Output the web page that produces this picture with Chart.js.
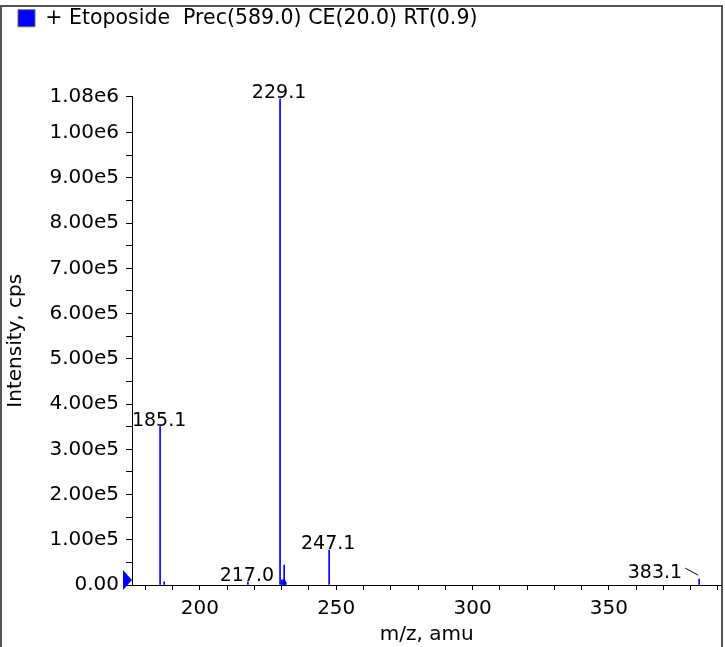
<!DOCTYPE html>
<html>
<head>
<meta charset="utf-8">
<script src="https://cdn.jsdelivr.net/npm/chart.js@4"></script>
<style>
html,body{margin:0;padding:0;background:#fff;}
</style>
</head>
<body>
<canvas id="chart1" width="725" height="647"></canvas>
<script>
// ---------- data ----------
const legendText = "+ Etoposide  Prec(589.0) CE(20.0) RT(0.9)";

// peak positions (m/z) and heights (cps)
const peakMz        = [185.4, 186.9, 217.6, 229.4, 230.0, 230.3, 230.6, 230.9, 231.2, 231.5, 247.4, 383.1];
const peakIntensity = [350000, 7000, 7000, 1075000, 11000, 11000, 11000, 44000, 10000, 6000, 77000, 13000];

// annotated peaks
const labelText      = ["185.1", "217.0", "229.1", "247.1", "383.1"];
const labelMz        = [185.4, 217.6, 229.4, 247.4, 383.1];
const labelIntensity = [350000, 7000, 1075000, 77000, 13000];

// threshold marker on the y axis
const markerIntensity = [11000];

const xTicks = [180,190,200,210,220,230,240,250,260,270,280,290,300,310,320,330,340,350,360,370,380,390];
const xLabelTicks = [200,250,300,350];
const yTicks = [0,50000,100000,150000,200000,250000,300000,350000,400000,450000,500000,
                550000,600000,650000,700000,750000,800000,850000,900000,950000,1000000,1080000];
const yLabelTicks = [0,100000,200000,300000,400000,500000,600000,700000,800000,900000,1000000,1080000];

const FONT = "DejaVu Sans";

function fmtY(v){
    if(v === 0) return "0.00";
    return v.toExponential(2).replace("e+","e");
}

// ---------- plugins ----------
const frame = {
    id: "frame",
    beforeDraw(chart){
        const ctx = chart.ctx;
        ctx.save();
        ctx.fillStyle = "#fff";
        ctx.fillRect(0,0,chart.width,chart.height);
        ctx.strokeStyle = "#555";
        ctx.lineWidth = 2;
        ctx.strokeRect(1,6,721,700);
        ctx.restore();
    }
};

const legendSpace = {
    id: "legendSpace",
    beforeInit(chart){
        const fit = chart.legend.fit;
        chart.legend.fit = function(){
            fit.bind(chart.legend)();
            this.height += 58;
        };
    }
};

// blue arrow on the y axis (threshold)
const marker = {
    id: "marker",
    afterDatasetsDraw(chart){
        const {ctx, scales:{x, y}} = chart;
        ctx.save();
        ctx.fillStyle = "#0000ff";
        markerIntensity.forEach(v => {
            const py = y.getPixelForValue(v);
            const px = x.left;
            ctx.beginPath();
            ctx.moveTo(px, py);
            ctx.lineTo(px - 9, py - 10);
            ctx.lineTo(px - 9, py + 10);
            ctx.closePath();
            ctx.fill();
        });
        ctx.restore();
    }
};

const peakLabels = {
    id: "peakLabels",
    afterDatasetsDraw(chart){
        const {ctx, scales:{x, y}} = chart;
        ctx.save();
        ctx.font = "19px '" + FONT + "'";
        ctx.fillStyle = "#000";
        ctx.strokeStyle = "#000";
        ctx.lineWidth = 1;
        labelText.forEach((t,i) => {
            const px = x.getPixelForValue(labelMz[i]);
            const py = y.getPixelForValue(labelIntensity[i]);
            if(px > x.right - 60){
                // too close to the edge, put it on the left with a leader line
                ctx.textAlign = "right";
                ctx.fillText(t, px - 17, py - 6);
                ctx.beginPath();
                ctx.moveTo(px - 14, py - 11);
                ctx.lineTo(px - 1, py - 4);
                ctx.stroke();
            } else {
                ctx.textAlign = "center";
                ctx.fillText(t, px - 1, py - 6);
            }
        });
        ctx.restore();
    }
};

// ---------- chart ----------
const chart1 = new Chart(document.getElementById("chart1"), {
    type: "bar",
    data: {
        datasets: [{
            label: legendText,
            data: peakMz.map((m,i) => ({x: m, y: peakIntensity[i]})),
            backgroundColor: "#0000ff",
            borderWidth: 0,
            barThickness: 1
        }]
    },
    options: {
        animation: false,
        responsive: false,
        events: [],
        layout: { padding: {left: 10, right: 3, top: 0, bottom: 0} },
        plugins: {
            tooltip: {enabled: false},
            legend: {
                position: "top",
                align: "start",
                labels: {
                    boxWidth: 17,
                    boxHeight: 17,
                    padding: 8,
                    color: "#000",
                    font: {family: FONT, size: 20.5},
                    generateLabels: () => [{
                        text: legendText,
                        fillStyle: "#0000ff",
                        strokeStyle: "#666",
                        lineWidth: 1,
                        hidden: false,
                        datasetIndex: 0
                    }]
                }
            }
        },
        scales: {
            x: {
                type: "linear",
                min: 175.1,
                max: 391.3,
                offset: false,
                afterBuildTicks: s => { s.ticks = xTicks.map(v => ({value: v})); },
                afterFit: s => { s.height = 62; },
                ticks: {
                    autoSkip: false,
                    maxRotation: 0,
                    padding: 7,
                    color: "#000",
                    font: {family: FONT, size: 20},
                    callback: v => xLabelTicks.includes(v) ? String(v) : ""
                },
                grid: {drawOnChartArea: false, offset: false, tickLength: 5, color: "#000"},
                border: {color: "#000", width: 1},
                title: {
                    display: true,
                    text: "m/z, amu",
                    color: "#000",
                    font: {family: FONT, size: 20},
                    padding: 0
                }
            },
            y: {
                min: 0,
                max: 1080000,
                afterBuildTicks: s => { s.ticks = yTicks.map(v => ({value: v})); },
                afterFit: s => { s.width = 122; },
                ticks: {
                    autoSkip: false,
                    padding: 7,
                    color: "#000",
                    font: {family: FONT, size: 20},
                    callback: v => yLabelTicks.includes(v) ? fmtY(v) : ""
                },
                grid: {drawOnChartArea: false, tickLength: 6, color: "#000"},
                border: {color: "#000", width: 1},
                title: {
                    display: true,
                    text: "Intensity, cps",
                    color: "#000",
                    font: {family: FONT, size: 20},
                    padding: {top: -6, bottom: 0}
                }
            }
        }
    },
    plugins: [frame, legendSpace, marker, peakLabels]
});
</script>
</body>
</html>
